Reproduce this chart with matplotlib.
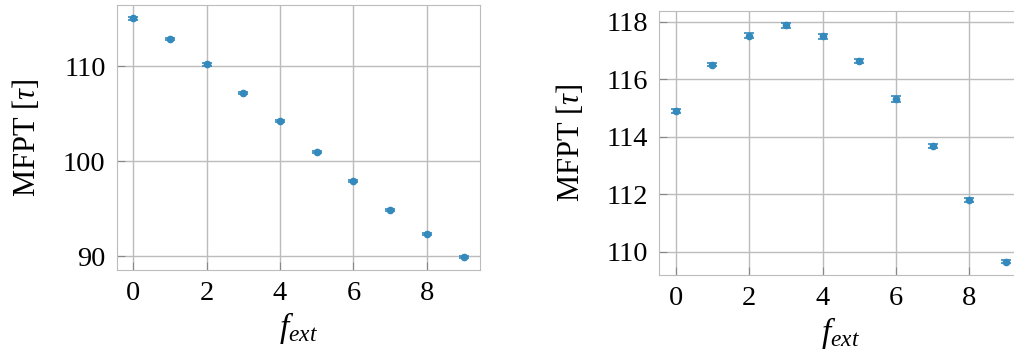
import matplotlib
matplotlib.use("Agg")
import matplotlib.pyplot as plt

plt.rcParams['font.family'] = ['Liberation Serif', 'DejaVu Serif']
plt.rcParams['mathtext.fontset'] = 'custom'
plt.rcParams['mathtext.it'] = 'Liberation Serif:italic'
plt.rcParams['mathtext.rm'] = 'Liberation Serif'

f_ext = [0, 1, 2, 3, 4, 5, 6, 7, 8, 9]

# left panel
mfpt_a = [115.04, 112.9, 110.2, 107.2, 104.2, 101.0, 97.9, 94.9, 92.3, 89.9]
err_a = [0.12, 0.12, 0.12, 0.11, 0.11, 0.1, 0.1, 0.1, 0.1, 0.09]

# right panel
mfpt_b = [114.89, 116.51, 117.52, 117.88, 117.49, 116.65, 115.30, 113.67, 111.79, 109.65]
err_b = [0.07, 0.06, 0.08, 0.09, 0.09, 0.07, 0.1, 0.07, 0.08, 0.05]

blue = '#348ABD'

fig = plt.figure(figsize=(10.14, 3.58), dpi=100)
ax1 = fig.add_axes([0.1151, 0.2458, 0.3583, 0.7394])
ax2 = fig.add_axes([0.650, 0.2318, 0.3586, 0.7383])

for ax, y, e in [(ax1, mfpt_a, err_a), (ax2, mfpt_b, err_b)]:
    ax.errorbar(f_ext, y, yerr=e, fmt='o', color=blue, ms=4.5,
                capsize=3.5, elinewidth=1.2, capthick=1.2, ecolor=blue)
    ax.grid(True, color='#bcbcbc', lw=1)
    ax.set_axisbelow(True)
    for s in ax.spines.values():
        s.set_color('#bcbcbc')
    ax.tick_params(direction='in', color='#888888', labelsize=20.5, length=6, pad=8)
    ax.set_xticks([0, 2, 4, 6, 8])
    ax.set_xlabel(r'$f_{ext}$', fontsize=24, labelpad=3)
    ax.set_ylabel(r'MFPT [$\tau$]', fontsize=22, labelpad=15)

ax1.set_yticks([90, 100, 110])
ax2.set_yticks([110, 112, 114, 116, 118])

fig.savefig('out.png', dpi=100)
